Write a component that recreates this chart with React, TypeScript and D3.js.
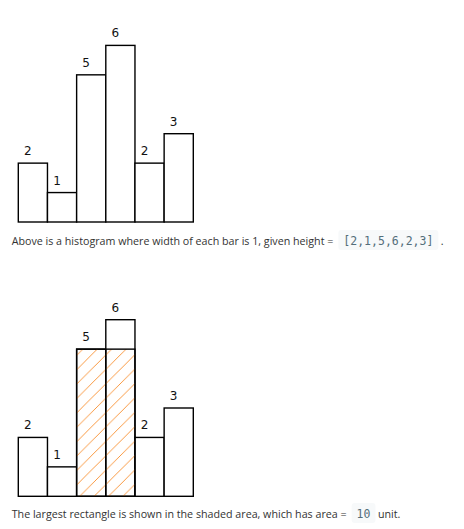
import React, { useEffect, useRef } from 'react';
import * as d3 from 'd3';

const heights = [2, 1, 5, 6, 2, 3];
const shaded = { from: 2, to: 4, height: 5 };
const caption1 = 'Above is a histogram where width of each bar is 1, given height =';
const code1 = '[2,1,5,6,2,3]';
const caption2 = 'The largest rectangle is shown in the shaded area, which has area =';
const code2 = '10';
const caption2tail = 'unit.';

const W = 464;
const H = 529;
const BODY_FONT = '"Open Sans", "Noto Sans", sans-serif';
const MONO_FONT = '"DejaVu Sans Mono", monospace';

const App: React.FC = () => {
  const ref = useRef<SVGSVGElement | null>(null);

  useEffect(() => {
    if (!ref.current) return;
    const svg = d3.select(ref.current);
    svg.selectAll('*').remove();

    // orange diagonal hatch for the largest rectangle
    const defs = svg.append('defs');
    const pat = defs.append('pattern')
      .attr('id', 'hatch')
      .attr('patternUnits', 'userSpaceOnUse')
      .attr('width', 14.4)
      .attr('height', 14.4);
    pat.append('path')
      .attr('d', 'M0,14.4 L14.4,0 M-3.6,3.6 L3.6,-3.6 M10.8,18 L18,10.8')
      .attr('stroke', '#f98a25')
      .attr('stroke-width', 0.9)
      .attr('shape-rendering', 'crispEdges')
      .attr('fill', 'none');

    const x = d3.scaleLinear().domain([0, heights.length]).range([18.3, 193.3]);

    const drawChart = (baseline: number, withShade: boolean) => {
      const y = d3.scaleLinear().domain([0, 6]).range([baseline, baseline - 176.6]);
      const g = svg.append('g');

      g.selectAll('rect.bar')
        .data(heights)
        .join('rect')
        .attr('class', 'bar')
        .attr('x', (_, i) => x(i))
        .attr('y', d => y(d))
        .attr('width', (_, i) => x(i + 1) - x(i))
        .attr('height', d => y(0) - y(d))
        .attr('fill', '#fff')
        .attr('stroke', '#000')
        .attr('stroke-width', 1.4);

      if (withShade) {
        g.append('rect')
          .attr('x', x(shaded.from))
          .attr('y', y(shaded.height))
          .attr('width', x(shaded.to) - x(shaded.from))
          .attr('height', y(0) - y(shaded.height))
          .attr('fill', 'url(#hatch)')
          .attr('stroke', '#000')
          .attr('stroke-width', 1.4);
        g.append('line')
          .attr('x1', x(3)).attr('x2', x(3))
          .attr('y1', y(shaded.height)).attr('y2', y(0))
          .attr('stroke', '#000')
          .attr('stroke-width', 1.4);
      }

      g.selectAll('text.lbl')
        .data(heights)
        .join('text')
        .attr('class', 'lbl')
        .attr('x', (_, i) => x(i) + 9.5)
        .attr('y', d => y(d) - 8)
        .attr('text-anchor', 'middle')
        .attr('font-family', '"DejaVu Sans", Verdana, sans-serif')
        .attr('font-size', 12)
        .attr('fill', '#111')
        .text(d => d);
    };

    drawChart(222, false);
    drawChart(496.3, true);

    const caption = (y: number, text: string, code: string, tail: string) => {
      const g = svg.append('g');
      const t = g.append('text')
        .attr('x', 11.7)
        .attr('y', y)
        .attr('font-family', BODY_FONT)
        .attr('font-size', 10.7)
        .attr('fill', '#333')
        .text(text);
      const tw = (t.node() as SVGTextElement).getComputedTextLength();
      const bx = 11.7 + tw + 5;
      const box = g.append('rect')
        .attr('y', y - 14.5)
        .attr('height', 20)
        .attr('rx', 3)
        .attr('fill', '#f7f9fa');
      const c = g.append('text')
        .attr('x', bx + 5)
        .attr('y', y)
        .attr('font-family', MONO_FONT)
        .attr('font-size', 11.5)
        .attr('fill', '#546e7a')
        .text(code);
      const cw = (c.node() as SVGTextElement).getComputedTextLength();
      box.attr('x', bx).attr('width', cw + 10);
      g.append('text')
        .attr('x', bx + cw + 10 + 2.5)
        .attr('y', y)
        .attr('font-family', BODY_FONT)
        .attr('font-size', 10.7)
        .attr('fill', '#333')
        .text(tail);
    };

    caption(244.5, caption1, code1, '.');
    caption(517.5, caption2, code2, caption2tail);
  }, []);

  return (
    <svg
      ref={ref}
      width={W}
      height={H}
      style={{ position: 'absolute', left: 0, top: 0, background: '#fff' }}
    />
  );
};

export default App;
